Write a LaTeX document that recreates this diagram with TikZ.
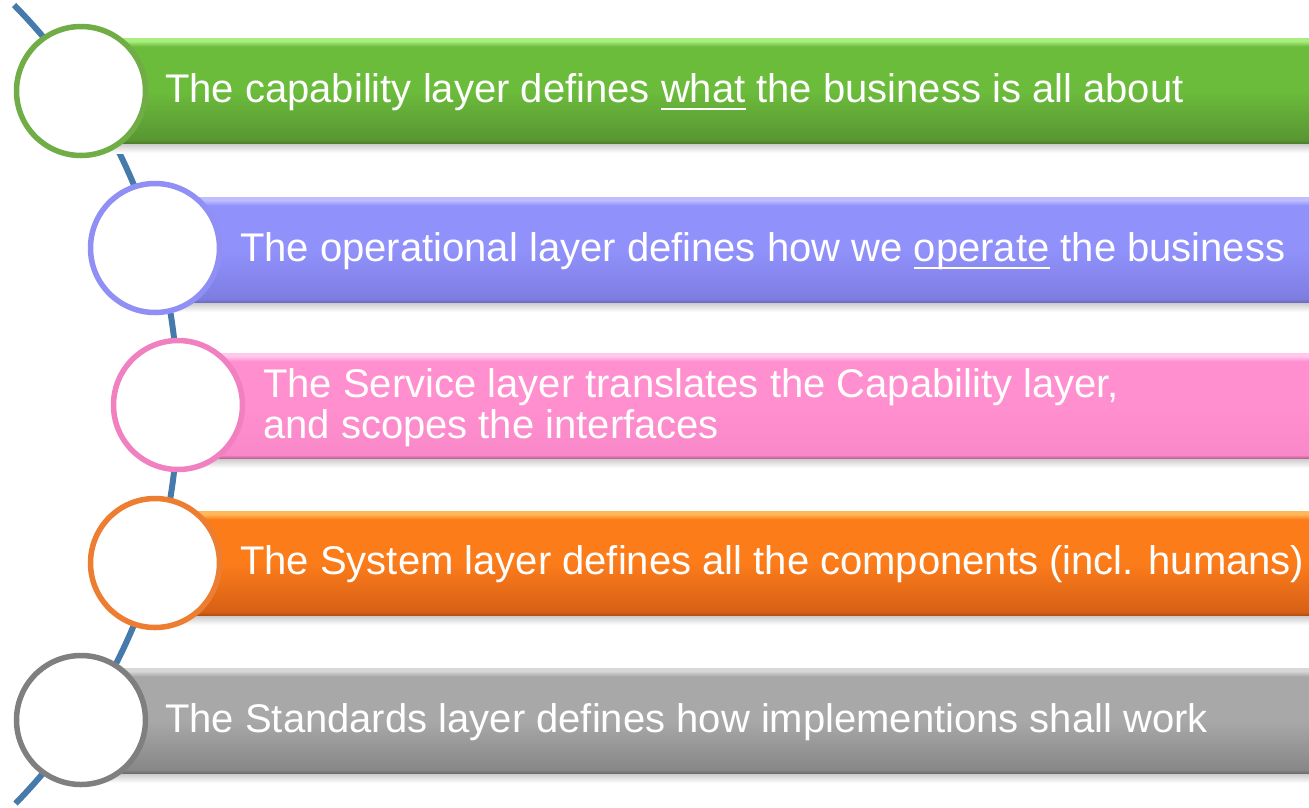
\documentclass[tikz,border=0pt]{standalone}
\usepackage{fontspec}
\setmainfont{Liberation Sans}
\usetikzlibrary{calc}
\definecolor{arcblue}{RGB}{70,122,170}
\definecolor{gO}{RGB}{112,173,71}
\definecolor{pO}{RGB}{143,143,245}
\definecolor{kO}{RGB}{240,128,192}
\definecolor{oO}{RGB}{237,125,49}
\definecolor{yO}{RGB}{127,127,127}
\definecolor{g1}{RGB}{78,128,44}\definecolor{g2}{RGB}{88,150,50}\definecolor{g3}{RGB}{108,188,60}\definecolor{g4}{RGB}{170,238,128}
\definecolor{p1}{RGB}{110,110,190}\definecolor{p2}{RGB}{125,125,225}\definecolor{p3}{RGB}{145,145,252}\definecolor{p4}{RGB}{190,190,255}
\definecolor{k1}{RGB}{190,100,150}\definecolor{k2}{RGB}{248,136,200}\definecolor{k3}{RGB}{255,143,207}\definecolor{k4}{RGB}{255,200,235}
\definecolor{o1}{RGB}{180,80,20}\definecolor{o2}{RGB}{215,96,22}\definecolor{o3}{RGB}{252,124,26}\definecolor{o4}{RGB}{255,185,90}
\definecolor{y1}{RGB}{110,110,110}\definecolor{y2}{RGB}{135,135,135}\definecolor{y3}{RGB}{168,168,168}\definecolor{y4}{RGB}{215,215,215}
% bar shadings: stops from bottom (25bp) to top (75bp)
\newcommand\barshading[5]{%
  \pgfdeclareverticalshading{#1}{100bp}{%
    color(0bp)=(#2); color(25bp)=(#2); color(26.5bp)=(#3); color(50bp)=(#4);
    color(71bp)=(#4); color(73.5bp)=(#5); color(75bp)=(#5); color(100bp)=(#5)}}
\barshading{gbar}{g1}{g2}{g3}{g4}
\barshading{pbar}{p1}{p2}{p3}{p4}
\barshading{kbar}{k1}{k2}{k3}{k4}
\barshading{obar}{o1}{o2}{o3}{o4}
\barshading{ybar}{y1}{y2}{y3}{y4}
\newcommand\myul[1]{\setbox0\hbox{#1}\rlap{\rule[-8pt]{\wd0}{2.4pt}}\box0\relax}
\tikzset{
  ring/.style={circle, fill=white, draw=#1, line width=5.5pt, minimum size=129pt, inner sep=0pt},
  bartext/.style={anchor=base west, inner sep=0pt, text=white, font=\fontsize{40}{41}\selectfont},
  shadowstrip/.style={top color=black!22, bottom color=white},
}
\begin{document}
\begin{tikzpicture}[x=1pt,y=-1pt]
\useasboundingbox (0,0) rectangle (1309,807);
% connecting arc
\coordinate (arctop) at ([shift={(-392,405)}]44.57:570pt);
\draw[arcblue, line width=6pt] (arctop) arc[start angle=44.57, end angle=-44.36, radius=570pt];
% bars: (left, top, bottom)
\foreach \sh/\x/\t/\b in {gbar/81/38/143, pbar/155/197/302, kbar/178/353/458, obar/155/511/615, ybar/81/668/773}{
  \shade[shadowstrip] (\x,\b) rectangle (1309,\b+10);
  \shade[shading=\sh] (\x,\t) rectangle (1309,\b);
}
% circles
\node[ring=gO] (c1) at (81,91) {};
\node[ring=pO] (c2) at (155,248) {};
\node[ring=kO] (c3) at (178,405) {};
\node[ring=oO] (c4) at (155,563) {};
\node[ring=yO] (c5) at (81,720) {};
% texts
\node[bartext] (t1) at (165,102) {The capability layer defines \myul{what} the business is all about};
\node[bartext] (t2) at (240,261) {The operational layer defines how we \myul{operate} the business};
\node[bartext, align=left] (t3) at (263,438) {The Service layer translates the Capability layer,\\and scopes the interfaces};
\node[bartext] (t4) at (240,574) {The System layer defines all the components (incl. humans)};
\node[bartext] (t5) at (165,732) {The Standards layer defines how implementions shall work};
\end{tikzpicture}
\end{document}
